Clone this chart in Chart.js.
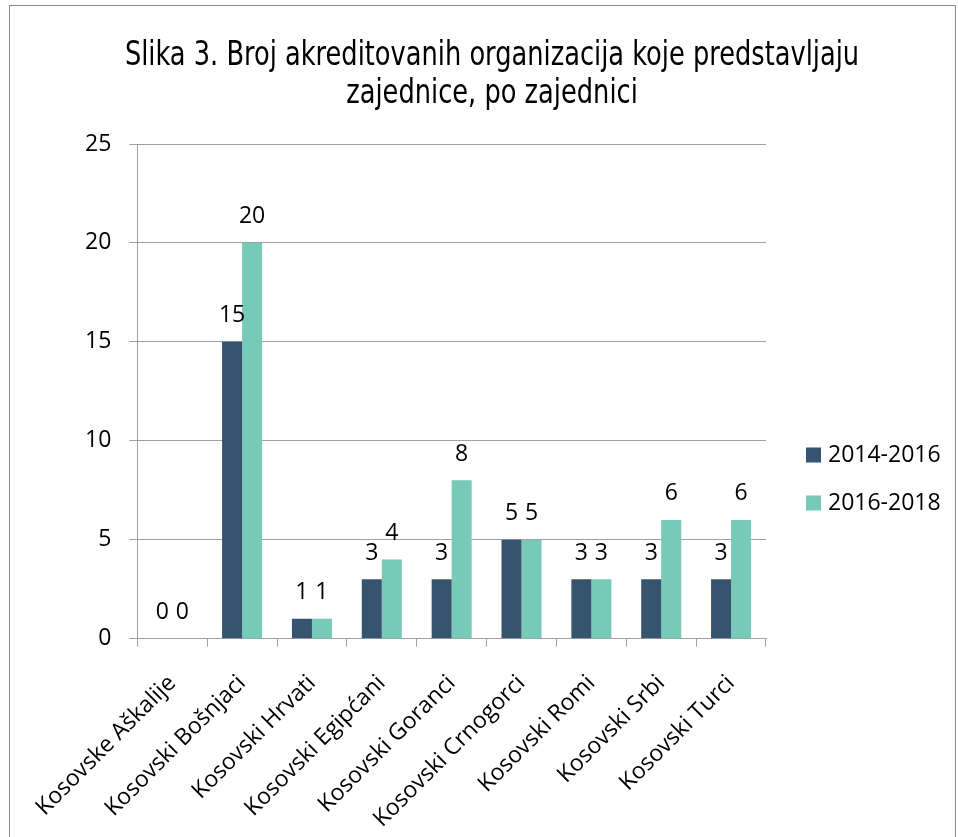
<!DOCTYPE html>
<html>
<head>
<meta charset="utf-8">
<script src="https://cdn.jsdelivr.net/npm/chart.js@4.4.1/dist/chart.umd.min.js"></script>
<style>
  html, body { margin: 0; padding: 0; background: #fff; overflow: hidden; }
  #wrap { position: relative; width: 958px; height: 837px; }
  #frame { position: absolute; left: 9px; top: 5px; width: 947px; height: 860px;
           border: 1px solid #8c8c8c; box-sizing: border-box; }
  #chart { position: absolute; left: 0; top: 0; }
</style>
</head>
<body>
<div id="wrap">
  <div id="frame"></div>
  <canvas id="chart" width="958" height="837"></canvas>
</div>
<script>
// ── Dữ liệu ──────────────────────────────────────────
const categories = [
  'Kosovske Aškalije', 'Kosovski Bošnjaci', 'Kosovski Hrvati',
  'Kosovski Egipćani', 'Kosovski Goranci', 'Kosovski Crnogorci',
  'Kosovski Romi', 'Kosovski Srbi', 'Kosovski Turci'
];
const seriesNames = ['2014-2016', '2016-2018'];
const values2014 = [0, 15, 1, 3, 3, 5, 3, 3, 3];
const values2016 = [0, 20, 1, 4, 8, 5, 3, 6, 6];
const yTicks = [0, 5, 10, 15, 20, 25];

const titleLines = [
  'Slika 3. Broj akreditovanih organizacija koje predstavljaju',
  'zajednice, po zajednici'
];

const COLORS = ['#36536f', '#77c9b8'];
const BODY_FONT = "'Open Sans', Lato, sans-serif";
const TITLE_FONT = "'DejaVu Sans Condensed', 'Liberation Sans', sans-serif";
const FS = 23;

// Tiêu đề kiểu chữ hẹp (không có font Narrow → nén ngang)
const narrowTitle = {
  id: 'narrowTitle',
  afterDraw(chart) {
    const ctx = chart.ctx;
    ctx.save();
    ctx.font = '34px ' + TITLE_FONT;
    ctx.fillStyle = '#000';
    ctx.textAlign = 'center';
    ctx.textBaseline = 'alphabetic';
    const cx = 492, sx = 0.84;
    titleLines.forEach((line, i) => {
      ctx.save();
      ctx.translate(cx, 65 + i * 38);
      ctx.scale(sx, 1);
      ctx.fillText(line, 0, 0);
      ctx.restore();
    });
    ctx.restore();
  }
};

// Chú thích bên phải (vẽ tay để đặt đúng chỗ)
const sideLegend = {
  id: 'sideLegend',
  afterDraw(chart) {
    const ctx = chart.ctx;
    const x = chart.chartArea.right + 40;
    ctx.save();
    ctx.font = FS + 'px ' + BODY_FONT;
    ctx.textAlign = 'left';
    ctx.textBaseline = 'middle';
    chart.data.datasets.forEach((ds, i) => {
      const y = 455 + i * 48;
      ctx.fillStyle = ds.backgroundColor;
      ctx.fillRect(x, y - 7.5, 15, 15);
      ctx.fillStyle = '#000';
      ctx.fillText(ds.label, x + 22, y);
    });
    ctx.restore();
  }
};

// Nhãn giá trị trên mỗi cột
const valueLabels = {
  id: 'valueLabels',
  afterDatasetsDraw(chart) {
    const ctx = chart.ctx;
    ctx.save();
    ctx.font = FS + 'px ' + BODY_FONT;
    ctx.fillStyle = '#000';
    ctx.textAlign = 'center';
    ctx.textBaseline = 'middle';
    chart.data.datasets.forEach((ds, i) => {
      chart.getDatasetMeta(i).data.forEach((bar, j) => {
        ctx.fillText(String(ds.data[j]), bar.x, bar.y - 26);
      });
    });
    ctx.restore();
  }
};

new Chart(document.getElementById('chart').getContext('2d'), {
  type: 'bar',
  data: {
    labels: categories,
    datasets: [
      { label: seriesNames[0], data: values2014, backgroundColor: COLORS[0] },
      { label: seriesNames[1], data: values2016, backgroundColor: COLORS[1] }
    ]
  },
  options: {
    responsive: false,
    animation: false,
    datasets: { bar: { categoryPercentage: 0.573, barPercentage: 1 } },
    layout: { padding: { left: 67, right: 192, top: 144, bottom: -19 } },
    plugins: {
      title: { display: false },
      legend: { display: false },
      tooltip: { enabled: false }
    },
    scales: {
      x: {
        grid: { drawOnChartArea: false, drawTicks: true, tickLength: 8, color: '#a0a0a0', offset: true },
        border: { color: '#a0a0a0' },
        ticks: {
          color: '#000',
          font: { family: BODY_FONT, size: FS },
          minRotation: 45, maxRotation: 45,
          autoSkip: false,
          padding: 23
        }
      },
      y: {
        min: 0, max: 25,
        afterBuildTicks: (axis) => { axis.ticks = yTicks.map(v => ({ value: v })); },
        grid: { color: '#a0a0a0', tickLength: 8 },
        border: { color: '#a0a0a0' },
        ticks: {
          color: '#000',
          font: { family: BODY_FONT, size: FS },
          padding: 18
        }
      }
    }
  },
  plugins: [valueLabels, narrowTitle, sideLegend]
});
</script>
</body>
</html>
